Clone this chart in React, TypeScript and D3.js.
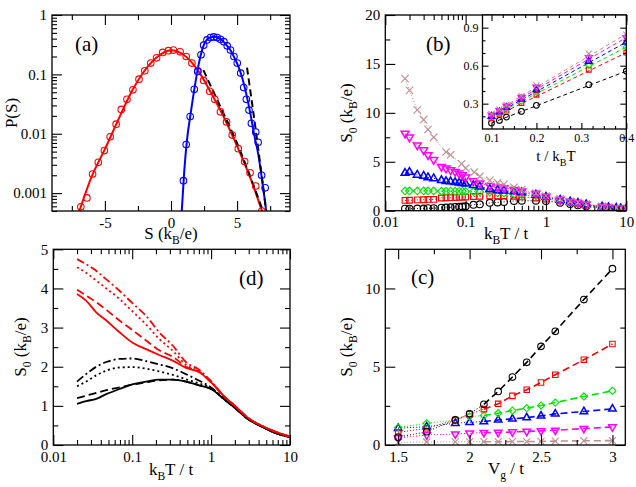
import React, { useEffect, useRef } from "react";
import * as d3 from "d3";

// ---------- panel (a): distributions P(S) ----------
const redS = [-6.82, -6.36, -5.93, -5.5, -5.04, -4.6, -4.15, -3.76, -3.33, -2.88, -2.42, -1.98, -1.53, -1.09, -0.63, -0.2, 0.18, 0.69, 1.15, 1.58, 2.04, 2.47, 2.93, 3.31, 3.74, 4.2, 4.63, 5.09, 5.57, 5.98, 6.41, 6.87];
const redP = [0.00059, 0.00083, 0.0021, 0.0033, 0.0052, 0.0089, 0.0145, 0.0257, 0.038, 0.055, 0.083, 0.115, 0.155, 0.19, 0.234, 0.251, 0.257, 0.24, 0.2, 0.155, 0.115, 0.079, 0.052, 0.038, 0.0234, 0.0158, 0.0095, 0.0056, 0.0034, 0.0022, 0.00132, 0.0005];
const redFitS = [-7.0, -6.0, -5.0, -4.0, -3.0, -2.0, -1.0, 0.0, 1.0, 2.0, 3.0, 4.0, 5.0, 6.0, 7.0];
const redFitP = [0.00045, 0.0019, 0.0055, 0.017, 0.05, 0.115, 0.2, 0.255, 0.21, 0.12, 0.05, 0.019, 0.0062, 0.0018, 0.00042];
const blueS = [0.94, 1.15, 1.45, 1.76, 2.02, 2.27, 2.47, 2.72, 2.98, 3.23, 3.49, 3.74, 4.0, 4.25, 4.5, 4.76, 5.01, 5.27, 5.5, 5.7, 5.9, 6.08, 6.41, 6.59, 6.85, 7.12];
const blueP = [0.00162, 0.0066, 0.0195, 0.056, 0.112, 0.214, 0.31, 0.38, 0.417, 0.427, 0.417, 0.389, 0.355, 0.302, 0.257, 0.2, 0.155, 0.105, 0.06, 0.038, 0.025, 0.015, 0.0107, 0.0072, 0.002, 0.00123];
const blueFitS = [0.8, 1.0, 1.2, 1.5, 1.8, 2.1, 2.4, 2.7, 3.0, 3.3, 3.6, 3.9, 4.2, 4.5, 4.8, 5.1, 5.4, 5.7, 6.0, 6.3, 6.6, 6.9, 7.1, 7.25];
const blueFitP = [0.00045, 0.0023, 0.0075, 0.023, 0.063, 0.15, 0.28, 0.38, 0.42, 0.43, 0.41, 0.37, 0.31, 0.255, 0.19, 0.135, 0.085, 0.046, 0.022, 0.0095, 0.0045, 0.0016, 0.00075, 0.0004];
const tailRedS = [2.45, 3.75, 5.0, 6.95];
const tailRedP = [0.118, 0.028, 0.0069, 0.0005];
const tailBlueS = [5.75, 6.41, 7.2];
const tailBlueP = [0.13, 0.0115, 0.0005];

// ---------- panel (b): S0 vs temperature ----------
const tempB = [0.0176, 0.02, 0.025, 0.03, 0.034, 0.04, 0.05, 0.057, 0.065, 0.074, 0.083, 0.091, 0.1, 0.125, 0.15, 0.2, 0.25, 0.3, 0.4, 0.5, 0.75, 1, 1.5, 2, 2.5, 3.16, 5, 6, 7.5, 8.5, 10];
const s0Magenta = [7.9, 7.5, 6.7, 6.2, 5.7, 5.2, 4.5, 4.33, 4.16, 3.99, 3.82, 3.65, 3.41, 3.03, 2.8, 2.55, 2.4, 2.3, 2.15, 2.0, 1.75, 1.45, 1.15, 0.95, 0.82, 0.663, 0.43, 0.35, 0.28, 0.245, 0.21];
const s0Blue = [3.85, 3.95, 3.65, 3.55, 3.4, 3.3, 3.1, 3.0, 2.98, 2.9, 2.85, 2.8, 2.75, 2.6, 2.45, 2.2, 2.1, 2.05, 1.95, 1.85, 1.62, 1.4, 1.1, 0.92, 0.786, 0.634, 0.41, 0.335, 0.27, 0.235, 0.2];
const s0Green = [2.02, 2.02, 2.02, 2.02, 2.02, 2.02, 2.0, 2.0, 2.0, 2.0, 1.98, 1.98, 1.97, 1.95, 1.92, 1.88, 1.82, 1.78, 1.7, 1.62, 1.5, 1.35, 1.07, 0.9, 0.747, 0.602, 0.39, 0.32, 0.26, 0.225, 0.195];
const s0Red = [1.05, 1.07, 1.1, 1.12, 1.15, 1.15, 1.3, 1.32, 1.33, 1.35, 1.36, 1.38, 1.4, 1.45, 1.48, 1.5, 1.5, 1.5, 1.48, 1.42, 1.3, 1.2, 1.0, 0.85, 0.703, 0.568, 0.37, 0.305, 0.245, 0.215, 0.185];
const s0Black = [0.2, 0.2, 0.22, 0.22, 0.25, 0.25, 0.3, 0.32, 0.35, 0.38, 0.4, 0.42, 0.45, 0.6, 0.65, 0.8, 0.85, 0.9, 1.0, 1.02, 1.02, 1.0, 0.82, 0.68, 0.557, 0.45, 0.287, 0.239, 0.194, 0.168, 0.147];
const tempBrown = [0.0176, 0.02, 0.025, 0.03, 0.034, 0.04, 0.057, 0.065, 0.089, 0.1, 0.128, 0.15, 0.2, 0.25, 0.3, 0.4, 0.5, 0.75, 1, 1.5, 2, 2.5, 3.16, 5, 6, 7.5, 8.5, 10];
const s0Brown = [13.5, 12.3, 10.3, 9.3, 8.3, 7.5, 6.0, 5.7, 4.8, 4.35, 3.95, 3.5, 3.1, 2.85, 2.7, 2.4, 2.15, 1.8, 1.5, 1.2, 0.96, 0.845, 0.695, 0.445, 0.36, 0.29, 0.255, 0.22];

// inset: linear fits in t/kBT, values at t/kBT = 0.1 and 0.4
const fitX = [0.1, 0.4];
const fitBlack = [0.147, 0.557];
const fitRed = [0.185, 0.703];
const fitGreen = [0.195, 0.747];
const fitBlue = [0.2, 0.786];
const fitMagenta = [0.21, 0.822];
const fitBrown = [0.22, 0.85];

// ---------- panel (c): S0 vs gate voltage ----------
const vg = [1.5, 1.7, 1.9, 2.0, 2.1, 2.2, 2.3, 2.4, 2.5, 2.6, 2.8, 3.0];
const vgBlack = [0.5, 0.85, 1.6, 1.99, 2.6, 3.42, 4.34, 5.28, 6.3, 7.26, 9.29, 11.26];
const vgRed = [0.8, 1.07, 1.6, 1.97, 2.29, 2.63, 3.14, 3.53, 3.99, 4.49, 5.45, 6.45];
const vgGreen = [1.11, 1.39, 1.6, 1.82, 1.88, 2.03, 2.2, 2.35, 2.52, 2.71, 3.1, 3.46];
const vgBlue = [1.07, 1.17, 1.39, 1.45, 1.5, 1.6, 1.67, 1.75, 1.86, 1.99, 2.14, 2.31];
const vgMagenta = [0.45, 0.64, 0.7, 0.75, 0.79, 0.8, 0.83, 0.87, 0.9, 0.94, 1.05, 1.15];
const vgBrown = [0.17, 0.19, 0.2, 0.21, 0.21, 0.21, 0.22, 0.22, 0.23, 0.25, 0.27, 0.28];

// ---------- panel (d): S0 curves ----------
const tempD = [0.02, 0.026, 0.035, 0.047, 0.069, 0.1, 0.15, 0.22, 0.33, 0.48, 0.71, 1.0, 1.5, 2.0, 3.0, 4.5, 6.5, 10];
const dBlackSolid = [1.05, 1.12, 1.18, 1.3, 1.43, 1.55, 1.62, 1.67, 1.67, 1.62, 1.52, 1.43, 1.15, 0.95, 0.65, 0.46, 0.31, 0.2];
const dBlackDash = [1.2, 1.26, 1.33, 1.4, 1.47, 1.54, 1.6, 1.65, 1.67, 1.62, 1.52, 1.43, 1.15, 0.95, 0.65, 0.46, 0.31, 0.2];
const dBlackDot = [1.5, 1.62, 1.78, 1.9, 1.98, 1.99, 1.95, 1.88, 1.79, 1.68, 1.57, 1.45, 1.15, 0.95, 0.65, 0.46, 0.31, 0.2];
const dBlackDashDot = [1.62, 1.81, 2.0, 2.12, 2.2, 2.21, 2.14, 2.06, 1.96, 1.81, 1.64, 1.47, 1.16, 0.95, 0.65, 0.46, 0.31, 0.2];
const dRedSolid = [3.86, 3.69, 3.39, 3.18, 2.88, 2.62, 2.45, 2.3, 2.15, 1.97, 1.86, 1.6, 1.22, 1.0, 0.68, 0.48, 0.34, 0.21];
const dRedDash = [3.97, 3.82, 3.65, 3.45, 3.18, 2.94, 2.67, 2.42, 2.25, 2.0, 1.87, 1.6, 1.22, 1.0, 0.68, 0.48, 0.34, 0.21];
const dRedDot = [4.54, 4.4, 4.2, 4.0, 3.73, 3.42, 3.08, 2.71, 2.4, 2.05, 1.88, 1.62, 1.22, 1.0, 0.68, 0.48, 0.34, 0.21];
const dRedDashDot = [4.75, 4.62, 4.45, 4.23, 3.94, 3.63, 3.3, 2.88, 2.53, 2.12, 1.92, 1.63, 1.22, 1.0, 0.68, 0.48, 0.34, 0.21];

const W = 636;
const H = 487;
const FONT = "'Liberation Serif', 'Times New Roman', serif";
const BLACK = "#000000";
const RED = "#ff0000";
const GREEN = "#00e600";
const BLUE = "#0000ff";
const MAGENTA = "#ff00ff";
const BROWN = "#bc8f8f";

type Box = { left: number; right: number; top: number; bottom: number };

// log-axis minor tick positions (2..9 per decade)
const logMinor = (lo: number, hi: number) => {
  const out: number[] = [];
  for (let e = Math.floor(Math.log10(lo)); e < Math.ceil(Math.log10(hi)); e++) {
    for (let m = 2; m <= 9; m++) {
      const v = m * Math.pow(10, e);
      if (v >= lo && v <= hi) out.push(v);
    }
  }
  return out;
};

const fmt = (d: any) => String(d);

function frame(g: any, x: any, y: any, box: Box, o: any) {
  const major = o.major ?? 10;
  const minor = o.minor ?? 5;
  const fs = o.fs ?? 15;
  const style = (sel: any) => {
    sel.select(".domain").remove();
    sel.selectAll("line").attr("stroke", "#000").attr("stroke-width", 1.1);
    sel.selectAll("text").attr("font-family", FONT).attr("font-size", fs).attr("fill", "#000");
  };
  const none = () => "";
  // bottom / top
  g.append("g").attr("transform", `translate(0,${box.bottom})`)
    .call(d3.axisBottom(x).tickValues(o.xMajor).tickSize(-major).tickPadding(o.xPad ?? 6).tickFormat(fmt)).call(style);
  g.append("g").attr("transform", `translate(0,${box.bottom})`)
    .call(d3.axisBottom(x).tickValues(o.xMinor).tickSize(-minor).tickFormat(none)).call(style);
  g.append("g").attr("transform", `translate(0,${box.top})`)
    .call(d3.axisTop(x).tickValues(o.xMajor).tickSize(-major).tickFormat(none)).call(style);
  g.append("g").attr("transform", `translate(0,${box.top})`)
    .call(d3.axisTop(x).tickValues(o.xMinor).tickSize(-minor).tickFormat(none)).call(style);
  // left / right
  g.append("g").attr("transform", `translate(${box.left},0)`)
    .call(d3.axisLeft(y).tickValues(o.yMajor).tickSize(-major).tickPadding(o.yPad ?? 5).tickFormat(fmt)).call(style);
  g.append("g").attr("transform", `translate(${box.left},0)`)
    .call(d3.axisLeft(y).tickValues(o.yMinor).tickSize(-minor).tickFormat(none)).call(style);
  g.append("g").attr("transform", `translate(${box.right},0)`)
    .call(d3.axisRight(y).tickValues(o.yMajor).tickSize(-major).tickFormat(none)).call(style);
  g.append("g").attr("transform", `translate(${box.right},0)`)
    .call(d3.axisRight(y).tickValues(o.yMinor).tickSize(-minor).tickFormat(none)).call(style);
  g.append("rect")
    .attr("x", box.left).attr("y", box.top)
    .attr("width", box.right - box.left).attr("height", box.bottom - box.top)
    .attr("fill", "none").attr("stroke", "#000").attr("stroke-width", 1.3);
}

// text with k_B style subscripts: parts are [text, isSubscript]
function rich(sel: any, parts: [string, boolean][], fs: number) {
  let down = false;
  parts.forEach(([t, sub]) => {
    const ts = sel.append("tspan").text(t);
    if (sub) {
      ts.attr("font-size", fs * 0.68);
      if (!down) ts.attr("dy", fs * 0.32);
      down = true;
    } else if (down) {
      ts.attr("dy", -fs * 0.32);
      down = false;
    }
  });
}

function xLabel(g: any, cx: number, baseY: number, parts: [string, boolean][], fs = 17) {
  const t = g.append("text").attr("x", cx).attr("y", baseY).attr("text-anchor", "middle")
    .attr("font-family", FONT).attr("font-size", fs).attr("fill", "#000");
  rich(t, parts, fs);
}

function yLabel(g: any, baseX: number, cy: number, parts: [string, boolean][], fs = 17) {
  const t = g.append("text").attr("transform", `translate(${baseX},${cy}) rotate(-90)`)
    .attr("text-anchor", "middle").attr("font-family", FONT).attr("font-size", fs).attr("fill", "#000");
  rich(t, parts, fs);
}

function panelLabel(g: any, x: number, y: number, s: string) {
  g.append("text").attr("x", x).attr("y", y).attr("font-family", FONT).attr("font-size", 21)
    .attr("fill", "#000").text(s);
}

function clipFor(svg: any, id: string, box: Box) {
  svg.append("defs").append("clipPath").attr("id", id).append("rect")
    .attr("x", box.left).attr("y", box.top)
    .attr("width", box.right - box.left).attr("height", box.bottom - box.top);
}

function curve(g: any, xs: number[], ys: number[], x: any, y: any, color: string, width: number, dash: string | null, smooth = true) {
  const line = d3.line<number>()
    .x((_, i) => x(xs[i]))
    .y((d) => y(d))
    .curve(smooth ? d3.curveMonotoneX : d3.curveLinear);
  g.append("path").attr("d", line(ys)).attr("fill", "none").attr("stroke", color)
    .attr("stroke-width", width).attr("stroke-dasharray", dash);
}

// symbol type, area, rotation, stroke width
const SHAPES: Record<string, [any, number, number, number]> = {
  circle: [d3.symbolCircle, 34, 0, 1.1],
  square: [d3.symbolSquare, 30, 0, 1.1],
  diamond: [d3.symbolSquare, 26, 45, 1.1],
  up: [d3.symbolTriangle, 24, 0, 1.5],
  down: [d3.symbolTriangle, 24, 180, 1.5],
  cross: [d3.symbolX, 34, 0, 1.1],
};

function marks(g: any, xs: number[], ys: number[], x: any, y: any, shape: string, color: string, scale = 1) {
  const [type, size, rot, sw] = SHAPES[shape];
  const sym = d3.symbol().type(type).size(size * scale);
  g.selectAll(null).data(ys).enter().append("path")
    .attr("d", sym())
    .attr("transform", (d: number, i: number) => `translate(${x(xs[i])},${y(d)}) rotate(${rot})`)
    .attr("fill", "none").attr("stroke", color).attr("stroke-width", sw);
}

function drawPanelA(svg: any) {
  const box = { left: 52, right: 290, top: 15, bottom: 211 };
  const x = d3.scaleLinear().domain([-9, 9]).range([box.left, box.right]);
  const y = d3.scaleLog().domain([0.0005, 1]).range([box.bottom, box.top]);
  clipFor(svg, "clipA", box);
  const g = svg.append("g");
  const p = g.append("g").attr("clip-path", "url(#clipA)");
  curve(p, redFitS, redFitP, x, y, RED, 2, null);
  curve(p, blueFitS, blueFitP, x, y, BLUE, 2, null);
  curve(p, tailRedS, tailRedP, x, y, BLACK, 2, "7,4");
  curve(p, tailBlueS, tailBlueP, x, y, BLACK, 2, "7,4");
  marks(p, redS, redP, x, y, "circle", RED);
  marks(p, blueS, blueP, x, y, "circle", BLUE);
  frame(g, x, y, box, {
    xMajor: [-5, 0, 5], xMinor: [-7.5, -2.5, 2.5, 7.5],
    yMajor: [0.001, 0.01, 0.1, 1], yMinor: logMinor(0.0005, 1),
  });
  xLabel(g, 171, 239, [["S (k", false], ["B", true], ["/e)", false]]);
  yLabel(g, 17, 113, [["P(S)", false]]);
  panelLabel(g, 75, 51, "(a)");
}

function drawPanelB(svg: any) {
  const box = { left: 385.3, right: 626.3, top: 15, bottom: 210.7 };
  const x = d3.scaleLog().domain([0.01, 10]).range([box.left, box.right]);
  const y = d3.scaleLinear().domain([0, 20]).range([box.bottom, box.top]);
  clipFor(svg, "clipB", box);
  const g = svg.append("g");
  const p = g.append("g").attr("clip-path", "url(#clipB)");
  const series: [number[], number[], string, string][] = [
    [tempB, s0Black, "circle", BLACK],
    [tempB, s0Red, "square", RED],
    [tempB, s0Green, "diamond", GREEN],
    [tempB, s0Blue, "up", BLUE],
    [tempB, s0Magenta, "down", MAGENTA],
    [tempBrown, s0Brown, "cross", BROWN],
  ];
  series.forEach(([ts, vs, , c]) => curve(p, ts, vs, x, y, c, 1, "1,2", false));
  series.forEach(([ts, vs, s, c]) => marks(p, ts, vs, x, y, s, c, 1.1));
  frame(g, x, y, box, {
    xMajor: [0.01, 0.1, 1, 10], xMinor: logMinor(0.01, 10),
    yMajor: [0, 5, 10, 15, 20], yMinor: [2.5, 7.5, 12.5, 17.5],
  });
  xLabel(g, 506, 239, [["k", false], ["B", true], ["T / t", false]]);
  yLabel(g, 352, 113, [["S", false], ["0", true], [" (k", false], ["B", true], ["/e)", false]]);
  panelLabel(g, 426, 51, "(b)");

  // inset: high-temperature points against t/kBT
  const ib = { left: 482.5, right: 626.3, top: 15, bottom: 129 };
  const ix = d3.scaleLinear().domain([0.08, 0.4]).range([ib.left, ib.right]);
  const iy = d3.scaleLinear().domain([0.1, 1.0]).range([ib.bottom, ib.top]);
  g.append("rect").attr("x", ib.left).attr("y", ib.top)
    .attr("width", ib.right - ib.left).attr("height", ib.bottom - ib.top).attr("fill", "#fff");
  clipFor(svg, "clipInset", ib);
  const ip = g.append("g").attr("clip-path", "url(#clipInset)");
  const fits: [number[], string][] = [
    [fitBlack, BLACK], [fitRed, RED], [fitGreen, GREEN],
    [fitBlue, BLUE], [fitMagenta, MAGENTA], [fitBrown, BROWN],
  ];
  fits.forEach(([f, c]) => curve(ip, fitX, f, ix, iy, c, 1, "4,3", false));
  series.forEach(([ts, vs, s, c]) => {
    const idx = ts.map((t, i) => i).filter((i) => ts[i] >= 2.5);
    marks(ip, idx.map((i) => 1 / ts[i]), idx.map((i) => vs[i]), ix, iy, s, c, 0.75);
  });
  frame(g, ix, iy, ib, {
    xMajor: [0.1, 0.2, 0.3, 0.4], xMinor: [0.125, 0.15, 0.175, 0.225, 0.25, 0.275, 0.325, 0.35, 0.375],
    yMajor: [0.3, 0.6, 0.9], yMinor: [0.2, 0.4, 0.5, 0.7, 0.8],
    major: 6, minor: 3, fs: 12, xPad: 4, yPad: 4,
  });
  xLabel(g, 556, 161, [["t / k", false], ["B", true], ["T", false]], 15);
}

function drawPanelD(svg: any) {
  const box = { left: 53.3, right: 290, top: 249.3, bottom: 445 };
  const x = d3.scaleLog().domain([0.01, 10]).range([box.left, box.right]);
  const y = d3.scaleLinear().domain([0, 5]).range([box.bottom, box.top]);
  clipFor(svg, "clipD", box);
  const g = svg.append("g");
  const p = g.append("g").attr("clip-path", "url(#clipD)");
  const lines: [number[], string, string | null][] = [
    [dBlackDashDot, BLACK, "8,3,2,3"],
    [dBlackDot, BLACK, "2,3"],
    [dBlackDash, BLACK, "8,4"],
    [dBlackSolid, BLACK, null],
    [dRedDashDot, RED, "8,3,2,3"],
    [dRedDot, RED, "2,3"],
    [dRedDash, RED, "8,4"],
    [dRedSolid, RED, null],
  ];
  lines.forEach(([vs, c, dash]) => curve(p, tempD, vs, x, y, c, 1.8, dash));
  frame(g, x, y, box, {
    xMajor: [0.01, 0.1, 1, 10], xMinor: logMinor(0.01, 10),
    yMajor: [0, 1, 2, 3, 4, 5], yMinor: [0.5, 1.5, 2.5, 3.5, 4.5],
  });
  xLabel(g, 171, 475, [["k", false], ["B", true], ["T / t", false]]);
  yLabel(g, 26, 347, [["S", false], ["0", true], [" (k", false], ["B", true], ["/e)", false]]);
  panelLabel(g, 239, 285, "(d)");
}

function drawPanelC(svg: any) {
  const box = { left: 385.3, right: 625.3, top: 249.3, bottom: 445 };
  const x = d3.scaleLinear().domain([1.41, 3.09]).range([box.left, box.right]);
  const y = d3.scaleLinear().domain([0, 12.5]).range([box.bottom, box.top]);
  clipFor(svg, "clipC", box);
  const g = svg.append("g");
  const p = g.append("g").attr("clip-path", "url(#clipC)");
  const series: [number[], string, string][] = [
    [vgBrown, "cross", BROWN],
    [vgMagenta, "down", MAGENTA],
    [vgBlue, "up", BLUE],
    [vgGreen, "diamond", GREEN],
    [vgRed, "square", RED],
    [vgBlack, "circle", BLACK],
  ];
  const split = vg.indexOf(2.1);
  series.forEach(([vs, , c]) => {
    curve(p, vg.slice(0, split + 1), vs.slice(0, split + 1), x, y, c, 1, "1,2", false);
    curve(p, vg.slice(split), vs.slice(split), x, y, c, 1.6, "7,4", false);
  });
  series.forEach(([vs, s, c]) => marks(p, vg, vs, x, y, s, c, 1.0));
  frame(g, x, y, box, {
    xMajor: [1.5, 2, 2.5, 3], xMinor: [1.75, 2.25, 2.75],
    yMajor: [0, 5, 10], yMinor: [2.5, 7.5],
  });
  xLabel(g, 506, 474, [["V", false], ["g", true], [" / t", false]]);
  yLabel(g, 352, 347, [["S", false], ["0", true], [" (k", false], ["B", true], ["/e)", false]]);
  panelLabel(g, 411, 284, "(c)");
}

export default function App() {
  const ref = useRef<SVGSVGElement>(null);

  useEffect(() => {
    const svg = d3.select(ref.current);
    svg.selectAll("*").remove();
    drawPanelA(svg);
    drawPanelB(svg);
    drawPanelD(svg);
    drawPanelC(svg);
  }, []);

  return (
    <svg
      ref={ref}
      width={W}
      height={H}
      style={{ position: "absolute", left: 0, top: 0, background: "#fff" }}
    />
  );
}
